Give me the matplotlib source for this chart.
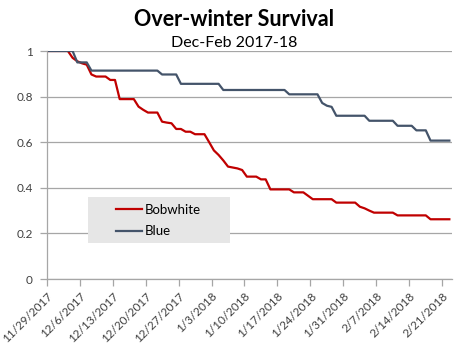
import numpy as np
import pandas as pd
import matplotlib
matplotlib.use('Agg')
import matplotlib.pyplot as plt
from matplotlib.patches import Rectangle

plt.rcParams['font.family'] = ['Lato', 'DejaVu Sans']

start = pd.Timestamp('2017-11-29')
n_days = 86

# day offset from 11/29/2017 where the survival value changes, and the new value
bob_days = [0, 5, 6, 7, 8, 9, 10, 13, 15, 19, 20, 21, 24, 25, 26, 27, 29, 31, 34, 35,
            36, 37, 38, 39, 40, 41, 42, 45, 47, 52, 55, 56, 61, 66, 67, 68, 69, 74, 81]
bob_vals = [1.0, 0.97, 0.955, 0.946, 0.94, 0.897, 0.888, 0.873, 0.789, 0.756, 0.742, 0.73,
            0.69, 0.686, 0.683, 0.658, 0.646, 0.635, 0.6, 0.564, 0.544, 0.52, 0.493, 0.489,
            0.485, 0.478, 0.449, 0.437, 0.393, 0.38, 0.365, 0.35, 0.335, 0.317, 0.31, 0.3,
            0.291, 0.279, 0.262]

blue_days = [0, 6, 9, 24, 28, 37, 51, 58, 59, 60, 61, 68, 74, 78, 81]
blue_vals = [1.0, 0.95, 0.914, 0.897, 0.856, 0.829, 0.81, 0.772, 0.76, 0.755, 0.716,
             0.694, 0.672, 0.652, 0.607]

tick_labels = ['11/29/2017', '12/6/2017', '12/13/2017', '12/20/2017', '12/27/2017',
               '1/3/2018', '1/10/2018', '1/17/2018', '1/24/2018', '1/31/2018',
               '2/7/2018', '2/14/2018', '2/21/2018']

dates = pd.date_range(start, periods=n_days, freq='D')


def daily(days, vals):
    s = pd.Series(vals, index=dates[days])
    return s.reindex(dates).ffill()


bob = daily(bob_days, bob_vals)
blue = daily(blue_days, blue_vals)

fig = plt.figure(figsize=(4.69, 3.49), dpi=100)
ax = fig.add_axes([46.7/469, 1-279/349, 405/469, 228/349])

# Excel puts each daily point in the middle of its day
xs = dates + pd.Timedelta(hours=12)
ax.plot(xs, bob.values, color='#C00000', lw=1.6, zorder=3)
ax.plot(xs, blue.values, color='#44546A', lw=1.6, zorder=4)

ax.set_ylim(0, 1)
ax.set_xlim(start, start + pd.Timedelta(days=n_days))
ax.set_yticks(np.arange(0, 1.01, 0.2))
ax.set_yticklabels(['0', '0.2', '0.4', '0.6', '0.8', '1'])
ticks = pd.date_range(start, periods=len(tick_labels), freq='7D')
ax.set_xticks(ticks)
ax.set_xticklabels(tick_labels, rotation=45, ha='right', rotation_mode='anchor')
ax.grid(axis='y', color='#a6a6a6', lw=0.9)
ax.set_axisbelow(True)
for s in ['top', 'right']:
    ax.spines[s].set_visible(False)
for s in ['left', 'bottom']:
    ax.spines[s].set_color('#a6a6a6')
    ax.spines[s].set_linewidth(0.9)
ax.tick_params(axis='both', length=5, width=0.9, color='#a6a6a6', labelsize=8.5,
               labelcolor='#404040', pad=3)
ax.tick_params(axis='y', pad=5)

fig.text(0.5, 1-26/349, 'Over-winter Survival', ha='center', va='baseline',
         fontsize=15.5, fontweight='bold')
fig.text(0.5, 1-46.7/349, 'Dec-Feb 2017-18', ha='center', va='baseline', fontsize=11.5)

fig.patches.append(Rectangle((88.3/469, 1-243.3/349), 141.7/469, 46.6/349,
                             transform=fig.transFigure, facecolor='#e6e6e6',
                             edgecolor='none', zorder=2))
leg = fig.legend(['Bobwhite', 'Blue'], loc='center left',
                 bbox_to_anchor=(116/469, 1-220.5/349), frameon=False,
                 fontsize=9.5, handlelength=2.0, handletextpad=0.2,
                 labelspacing=0.75, borderpad=0, borderaxespad=0)
leg.set_zorder(3)

fig.savefig('out.png', dpi=100)
